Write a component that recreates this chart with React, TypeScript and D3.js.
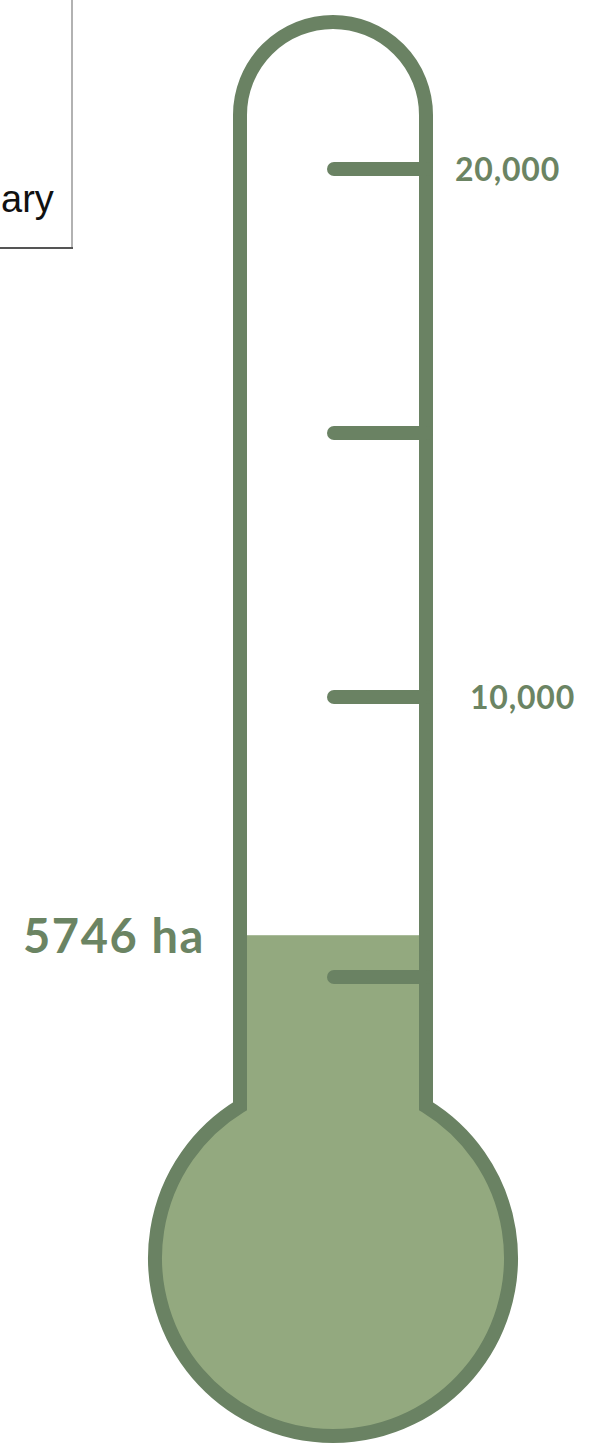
import React from "react";
import * as d3 from "d3";

// ---- data ----
const currentValue = 5746;
const valueUnit = "ha";
const tickValues = [5000, 10000, 15000, 20000];
const labeledTicks = [10000, 20000];
const boxText = "ary";

// ---- layout / style ----
const W = 611;
const H = 1445;
const strokeColor = "#6a8263";
const fillColor = "#93a97f";
const textColor = "#6b8463";
const tubeLeft = 240;
const tubeRight = 426;
const tubeTopArcY = 115;
const bulbCx = 333;
const bulbCy = 1258;
const bulbR = 178;
const wall = 14;

export default function App() {
  const y = d3
    .scaleLinear()
    .domain(tickValues)
    .range([977, 697, 433, 169]);

  const tubeR = (tubeRight - tubeLeft) / 2;
  const dx = (tubeRight - tubeLeft) / 2;
  const jy = bulbCy - Math.sqrt(bulbR * bulbR - dx * dx);

  const p = d3.path();
  p.moveTo(tubeLeft, jy);
  p.lineTo(tubeLeft, tubeTopArcY);
  p.arc(bulbCx, tubeTopArcY, tubeR, Math.PI, 2 * Math.PI);
  p.lineTo(tubeRight, jy);
  const a0 = Math.atan2(jy - bulbCy, tubeRight - bulbCx);
  const a1 = Math.atan2(jy - bulbCy, tubeLeft - bulbCx) + 2 * Math.PI;
  p.arc(bulbCx, bulbCy, bulbR, a0, a1);
  p.closePath();
  const outline = p.toString();

  const fmt = d3.format(",");
  const labelX: Record<number, number> = { 20000: 455, 10000: 470 };
  const levelY = y(currentValue);

  return (
    <svg
      width={W}
      height={H}
      style={{ position: "absolute", left: 0, top: 0, background: "#fff" }}
    >
      <defs>
        <clipPath id="thermo-clip">
          <path d={outline} />
        </clipPath>
      </defs>
      {/* cut-off box at top-left */}
      <rect x={-200} y={-10} width={272} height={258} fill="#fff" stroke="#999" strokeWidth={1.5} />
      <line x1={0} x2={73} y1={248} y2={248} stroke="#555" strokeWidth={2} />
      <text
        x={1}
        y={212}
        fontFamily="'Liberation Sans', Arial, sans-serif"
        fontSize={38}
        fill="#111"
      >
        {boxText}
      </text>

      {/* liquid */}
      <rect
        x={0}
        y={levelY}
        width={W}
        height={H - levelY}
        fill={fillColor}
        clipPath="url(#thermo-clip)"
      />
      {/* outline */}
      <path
        d={outline}
        fill="none"
        stroke={strokeColor}
        strokeWidth={wall}
        strokeLinejoin="miter"
      />
      {/* ticks */}
      {tickValues.map((t) => (
        <line
          key={t}
          x1={334}
          x2={tubeRight}
          y1={y(t)}
          y2={y(t)}
          stroke={strokeColor}
          strokeWidth={wall}
          strokeLinecap="round"
        />
      ))}
      {labeledTicks.map((t) => (
        <text
          key={t}
          x={labelX[t]}
          y={y(t)}
          dy="0.36em"
          fontFamily="Lato, 'Open Sans', sans-serif"
          fontWeight={700}
          fontSize={32}
          letterSpacing={0.8}
          fill={textColor}
        >
          {fmt(t)}
        </text>
      ))}
      {/* value label */}
      <text
        x={23}
        y={953}
        fontFamily="Lato, 'Open Sans', sans-serif"
        fontWeight={700}
        fontSize={47}
        letterSpacing={1.6}
        fill={textColor}
      >
        {`${currentValue} ${valueUnit}`}
      </text>
    </svg>
  );
}
